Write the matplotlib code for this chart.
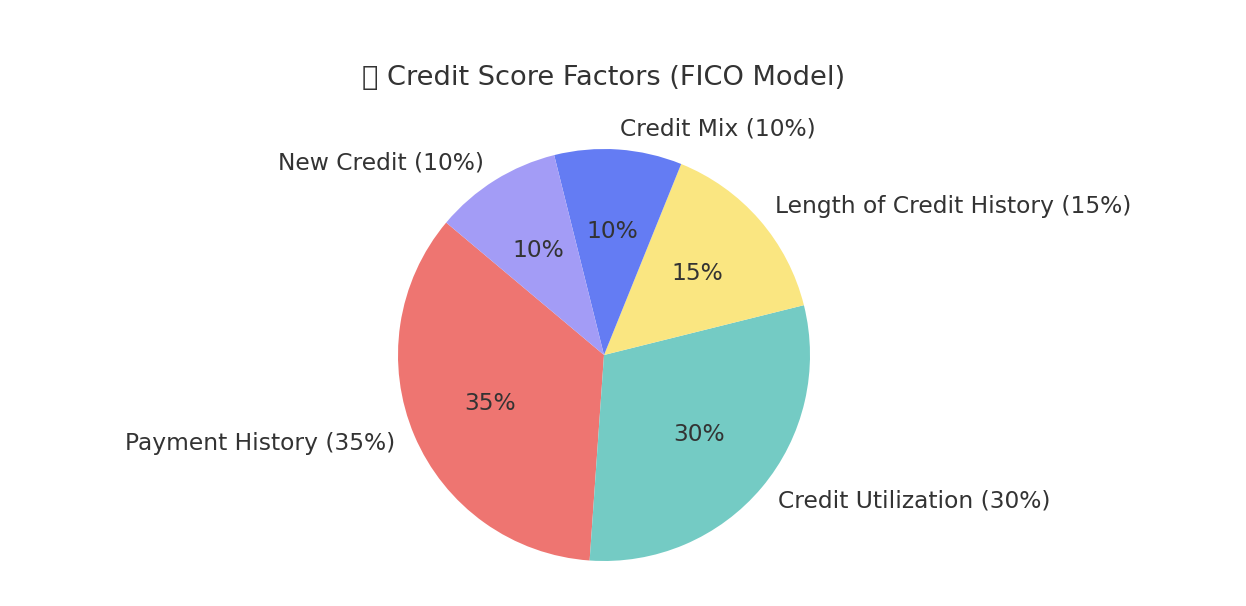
import matplotlib
matplotlib.use("Agg")
import matplotlib.pyplot as plt
import numpy as np

labels = ["Payment History", "Credit Utilization", "Length of Credit History", "Credit Mix", "New Credit"]
values = [35, 30, 15, 10, 10]
colors = ["#ee7571", "#74cbc4", "#fae681", "#647cf3", "#a39cf6"]
title = "\U0001F4CA Credit Score Factors (FICO Model)"

plt.rcParams['font.family'] = ['DejaVu Sans']
fig = plt.figure(figsize=(12.46, 6.06), dpi=100)
ax = fig.add_axes([0, 0, 1, 1])

# pie center at (604, 355) px, radius 206 px
cx = (604 - 623) / 303
cy = (303 - 355) / 303
r = 206 / 303
start = 140
wedge_labels = [f"{l} ({v}%)" for l, v in zip(labels, values)]
wedges, texts, autotexts = ax.pie(values, labels=wedge_labels, colors=colors, startangle=start,
                                  autopct="%1.0f%%", pctdistance=0.6, labeldistance=1.1,
                                  textprops={"fontsize": 16.8, "color": "#333333"},
                                  radius=r, center=(cx, cy), frame=True)
ang = start
for t, v in zip(texts, values):
    mid = np.deg2rad(ang + v * 3.6 / 2)
    t.set_horizontalalignment("left" if np.cos(mid) > 0 else "right")
    ang += v * 3.6
ax.set_aspect("equal")
ax.set_xlim(-1246 / 606, 1246 / 606)
ax.set_ylim(-1, 1)
ax.axis("off")
ax.text(cx, (303 - 78) / 303, title, ha="center", va="center", fontsize=19.6, color="#333333")
fig.savefig("out.png", dpi=100)
